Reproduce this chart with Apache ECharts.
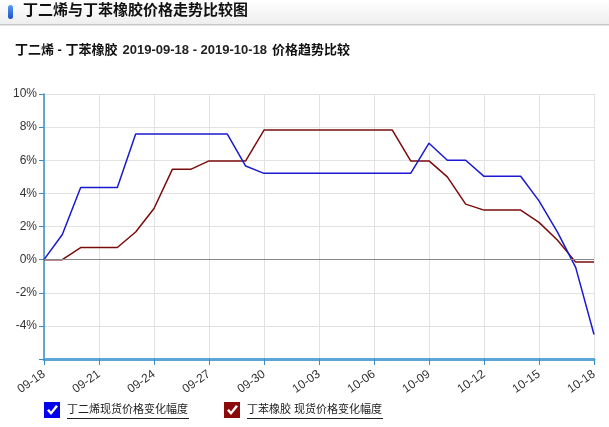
<!DOCTYPE html>
<html>
<head>
<meta charset="utf-8">
<script src="https://cdn.jsdelivr.net/npm/echarts@6/dist/echarts.min.js"></script>
<style>
	html, body { margin: 0; padding: 0; background: #fff; }
	#chart { width: 609px; height: 427px; }
</style>
</head>
<body>
<div id="chart"></div>
<script>
// dates 2019-09-18 .. 2019-10-18
var days = ['09-18','09-19','09-20','09-21','09-22','09-23','09-24','09-25','09-26','09-27','09-28','09-29','09-30',
	'10-01','10-02','10-03','10-04','10-05','10-06','10-07','10-08','10-09','10-10','10-11','10-12','10-13','10-14','10-15','10-16','10-17','10-18'];

// 丁二烯 (%)
var butadiene = [0, 1.52, 4.36, 4.36, 4.36, 7.58, 7.58, 7.58, 7.58, 7.58, 7.58, 5.65, 5.21,
	5.21, 5.21, 5.21, 5.21, 5.21, 5.21, 5.21, 5.21, 7.03, 6.0, 6.0, 5.03, 5.03, 5.03, 3.55, 1.68, -0.47, -4.52];

// 丁苯橡胶 (%)
var sbr = [0, 0, 0.73, 0.73, 0.73, 1.67, 3.09, 5.45, 5.45, 5.96, 5.96, 5.96, 7.82,
	7.82, 7.82, 7.82, 7.82, 7.82, 7.82, 7.82, 5.96, 5.96, 5.0, 3.35, 2.99, 2.99, 2.99, 2.25, 1.18, -0.15, -0.15];

var seriesNames = ['丁二烯现货价格变化幅度', '丁苯橡胶 现货价格变化幅度'];

var FONT = 'Liberation Sans, Noto Sans CJK SC, sans-serif';
var checkIcon = 'path://M0 0L16 0L16 16L0 16ZM3 8.5L7 13L14 4.5L12 3L7 9.5L5 7Z';

var chart = echarts.init(document.getElementById('chart'));
chart.setOption({
	animation: false,
	textStyle: { fontFamily: FONT },
	title: {
		left: 10,
		top: 36,
		text: '{b|丁二烯 - 丁苯橡胶} {n|2019-09-18 - 2019-10-18} {b|价格趋势比较}',
		textStyle: {
			rich: {
				b: { fontSize: 13, fontWeight: 'bold', color: '#111', fontFamily: FONT },
				n: { fontSize: 13, color: '#222', fontFamily: FONT }
			}
		}
	},
	graphic: [
		{
			type: 'rect', left: 0, top: 0, z: 0,
			shape: { width: 609, height: 24 },
			style: {
				fill: new echarts.graphic.LinearGradient(0, 0, 0, 1, [
					{ offset: 0, color: '#ffffff' },
					{ offset: 1, color: '#eeeeee' }
				])
			}
		},
		{ type: 'rect', left: 0, top: 24, shape: { width: 609, height: 1.5 }, style: { fill: '#c8c8c8' } },
		{
			type: 'rect', left: 8, top: 5,
			shape: { width: 5, height: 14, r: 2.5 },
			style: {
				fill: new echarts.graphic.LinearGradient(0, 0, 0, 1, [
					{ offset: 0, color: '#5a9cf0' },
					{ offset: 1, color: '#1c50c8' }
				])
			}
		},
		{
			type: 'text', left: 23, top: 3,
			style: { text: '丁二烯与丁苯橡胶价格走势比较图', font: 'bold 15px ' + FONT, fill: '#111' }
		},
		{ type: 'line', shape: { x1: 67, y1: 418.5, x2: 189, y2: 418.5 }, style: { stroke: '#222', lineWidth: 1 } },
		{ type: 'line', shape: { x1: 247, y1: 418.5, x2: 383, y2: 418.5 }, style: { stroke: '#222', lineWidth: 1 } }
	],
	legend: {
		left: 44,
		top: 402,
		padding: 0,
		itemWidth: 16,
		itemHeight: 16,
		itemGap: 36,
		icon: checkIcon,
		textStyle: { fontSize: 11, color: '#222', padding: [0, 0, 0, 2] },
		data: seriesNames
	},
	grid: { left: 44, right: 15, top: 94, bottom: 68 },
	xAxis: {
		type: 'category',
		data: days,
		boundaryGap: false,
		axisLine: { onZero: false, lineStyle: { color: '#5ba8d8', width: 3 } },
		axisTick: { interval: 2, length: 6, lineStyle: { color: '#3a8cc4', width: 1 } },
		axisLabel: { interval: 2, rotate: 35, fontSize: 12, color: '#333', margin: 14 },
		splitLine: { show: true, interval: 2, lineStyle: { color: '#e2e2e2' } }
	},
	yAxis: {
		type: 'value',
		min: -6,
		max: 10,
		interval: 2,
		axisLine: { show: true, lineStyle: { color: '#3a8cc4', width: 1.5 } },
		axisTick: { show: true, length: 5, lineStyle: { color: '#3a8cc4' } },
		axisLabel: {
			fontSize: 12, color: '#333', margin: 7,
			formatter: function (v) { return v === -6 ? '' : v + '%'; }
		},
		splitLine: { lineStyle: { color: '#e2e2e2' } }
	},
	series: [
		{
			name: seriesNames[0],
			type: 'line',
			data: butadiene,
			showSymbol: false,
			color: '#0000ee',
			lineStyle: { width: 1.5, color: '#1a1ad0' },
			markLine: {
				silent: true,
				symbol: 'none',
				label: { show: false },
				lineStyle: { color: '#888', type: 'solid', width: 1 },
				data: [{ yAxis: 0 }]
			},
			z: 3
		},
		{
			name: seriesNames[1],
			type: 'line',
			data: sbr,
			showSymbol: false,
			color: '#8b0a0a',
			lineStyle: { width: 1.5, color: '#7a0c0c' },
			z: 2
		}
	]
});
</script>
</body>
</html>
